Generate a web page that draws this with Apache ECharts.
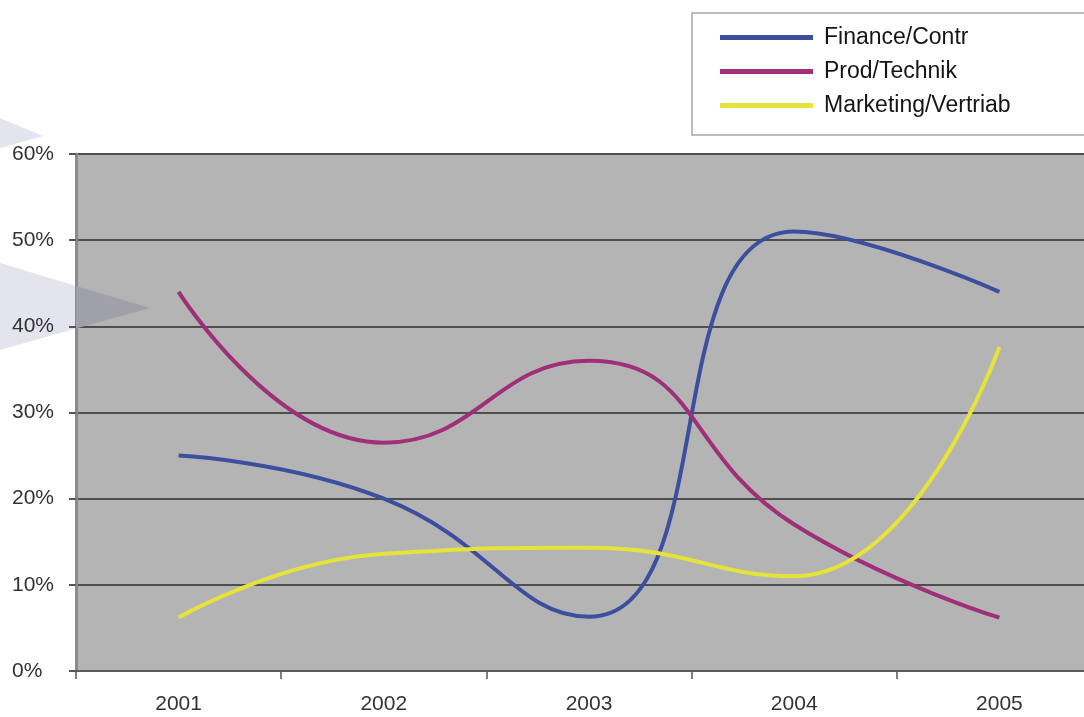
<!DOCTYPE html>
<html>
  <head>
    <meta charset="utf-8" />
    <title>ECharts</title>
    <script src="https://cdn.jsdelivr.net/npm/echarts@6/dist/echarts.min.js"></script>
    <style>
      html, body { margin: 0; padding: 0; background: #fff; overflow: hidden; }
    </style>
  </head>
  <body>
    <!-- etwas breiter als das Fenster: die Zeichenfläche läuft rechts aus dem Bild -->
    <div id="chart" style="width: 1110px; height: 717px"></div>
    <script type="text/javascript">
      // Daten (Anteil in %)
      var years = ["2001", "2002", "2003", "2004", "2005"];
      var finance = [25, 20, 6.3, 51, 44];
      var prod = [44, 26.5, 36, 17, 6.2];
      var marketing = [6.2, 13.6, 14.3, 11, 37.6];
      var names = ["Finance/Contr", "Prod/Technik", "Marketing/Vertriab"];
      var colors = ["#3c4f9e", "#9e2f78", "#e6e33a"];

      var font = "'Liberation Sans', Arial, sans-serif";
      var chart = echarts.init(document.getElementById("chart"));

      function line(name, data, color) {
        return {
          name: name,
          type: "line",
          data: data,
          smooth: 0.5,
          showSymbol: false,
          symbol: "none",
          lineStyle: { color: color, width: 4 },
          itemStyle: { color: color },
          z: 5,
        };
      }

      var option = {
        animation: false,
        backgroundColor: "#fff",
        grid: {
          left: 76,
          top: 154,
          bottom: 46,
          right: 8,
          show: true,
          backgroundColor: "#b4b4b4",
          borderWidth: 0,
        },
        legend: {
          orient: "vertical",
          left: 720,
          top: 25,
          padding: 0,
          itemWidth: 93,
          itemHeight: 5,
          itemGap: 9,
          icon: "rect",
          data: names,
          textStyle: {
            fontFamily: font,
            fontSize: 23,
            lineHeight: 25,
            color: "#151515",
            padding: [0, 0, 0, 6],
          },
        },
        xAxis: {
          type: "category",
          data: years,
          boundaryGap: true,
          axisLine: { lineStyle: { color: "#5a5a5a", width: 2 } },
          axisTick: { show: true, length: 8, lineStyle: { color: "#555", width: 1.5 } },
          axisLabel: { fontFamily: font, fontSize: 21, color: "#333", margin: 23 },
        },
        yAxis: {
          type: "value",
          min: 0,
          max: 60,
          interval: 10,
          axisLine: { show: true, lineStyle: { color: "#8a8a8a", width: 3 } },
          axisTick: { show: true, length: 7, lineStyle: { color: "#555", width: 2 } },
          axisLabel: {
            formatter: "{value}%",
            fontFamily: font,
            fontSize: 21,
            color: "#333",
            align: "left",
            margin: 64,
          },
          splitLine: { lineStyle: { color: "#4e4e4e", width: 2 } },
        },
        graphic: [
          {
            type: "rect",
            shape: { x: 692, y: 13, width: 440, height: 122 },
            style: { fill: "#fff", stroke: "#a8a8a8", lineWidth: 1.5 },
            z: -1,
          },
          {
            type: "polygon",
            shape: { points: [[0, 118], [43, 136], [0, 148]] },
            style: { fill: "#e4e4ee" },
          },
          {
            type: "polygon",
            shape: { points: [[0, 263], [76, 286], [76, 328.4], [0, 350]] },
            style: { fill: "#e4e4ee" },
          },
          {
            type: "polygon",
            shape: { points: [[76, 286], [150, 308], [76, 328.4]] },
            style: { fill: "#a0a0aa" },
            z: 1,
          },
        ],
        series: [
          line(names[0], finance, colors[0]),
          line(names[1], prod, colors[1]),
          line(names[2], marketing, colors[2]),
        ],
      };
      chart.setOption(option);
    </script>
  </body>
</html>
